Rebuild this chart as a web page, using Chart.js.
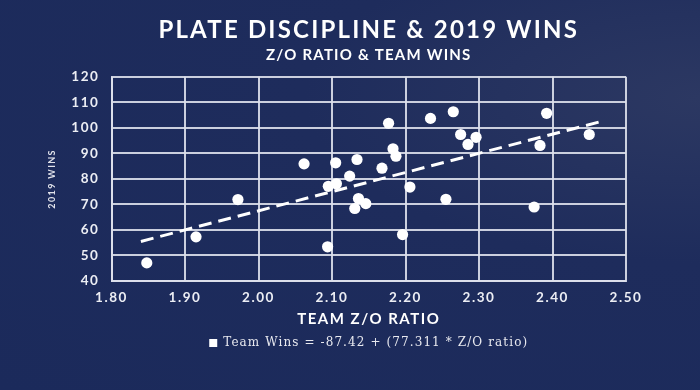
<!DOCTYPE html>
<html>
<head>
<meta charset="utf-8">
<script src="https://cdn.jsdelivr.net/npm/chart.js@4"></script>
<style>
  html, body { margin: 0; padding: 0; }
  body {
    width: 700px; height: 390px; overflow: hidden;
    background: radial-gradient(ellipse at 100% 25%, #2c3862 0%, #1e2c5c 40%, #1b2a5b 100%);
  }
</style>
</head>
<body>
<canvas id="winsChart" width="700" height="390"></canvas>
<script>
// team Z/O ratio vs 2019 wins
const zoRatio = [1.848, 1.915, 1.972, 2.062, 2.094, 2.095, 2.105, 2.106, 2.124, 2.131,
                 2.134, 2.136, 2.146, 2.168, 2.177, 2.183, 2.187, 2.196, 2.206, 2.234,
                 2.255, 2.265, 2.275, 2.285, 2.296, 2.375, 2.383, 2.392, 2.450];
const teamWins = [47.1, 57.3, 71.9, 85.9, 53.4, 77.1, 86.3, 78.1, 81.1, 68.4,
                  87.6, 72.3, 70.3, 84.2, 101.8, 91.8, 88.9, 58.2, 76.8, 103.7,
                  72.0, 106.3, 97.4, 93.5, 96.3, 69.0, 93.1, 105.7, 97.4];

// regression line end points
const trendX = [1.84, 2.465];
const trendY = [55.5, 102.4];
const trendLabel = 'Team Wins = -87.42 + (77.311 * Z/O ratio)';

const xTicks = [1.8, 1.9, 2.0, 2.1, 2.2, 2.3, 2.4, 2.5];
const yTicks = [40, 50, 60, 70, 80, 90, 100, 110, 120];

const white = '#ffffff';
const gridColor = 'rgba(222,225,236,0.9)';

// canvas letter spacing per box (chart.js has no option for it)
function withSpacing(chart, fn, sp) {
  return (...args) => {
    const c = chart.ctx;
    c.save(); c.letterSpacing = sp;
    const r = fn(...args);
    c.restore();
    return r;
  };
}
const spacingPlugin = {
  id: 'spacing',
  beforeLayout(chart) {
    chart.boxes.forEach(box => {
      if (box._spaced) return;
      let sp = '0px', titleSp = null;
      if (box === chart.titleBlock) sp = '2.2px';
      else if (box === chart.legend) sp = '1.1px';
      else if (box.id === 'x') { sp = '1.6px'; titleSp = '1.5px'; }
      else if (box.id === 'y') { sp = '1.6px'; titleSp = '1.4px'; }
      else sp = '1.2px'; // subtitle
      box.draw = withSpacing(chart, box.draw.bind(box), sp);
      if (box === chart.legend) box.fit = withSpacing(chart, box.fit.bind(box), sp);
      if (titleSp) box.drawTitle = withSpacing(chart, box.drawTitle.bind(box), titleSp);
      box._spaced = true;
    });
  }
};

const ctx = document.getElementById('winsChart').getContext('2d');
new Chart(ctx, {
  type: 'scatter',
  data: {
    datasets: [{
      label: 'teams',
      data: zoRatio.map((x, i) => ({ x: x, y: teamWins[i] })),
      backgroundColor: white,
      borderWidth: 0,
      pointRadius: 5.6,
      order: 1
    }, {
      type: 'line',
      label: trendLabel,
      data: trendX.map((x, i) => ({ x: x, y: trendY[i] })),
      borderColor: white,
      backgroundColor: white,
      borderWidth: 3,
      borderDash: [13, 7],
      pointRadius: 0,
      fill: false,
      order: 0
    }]
  },
  options: {
    responsive: false,
    animation: false,
    devicePixelRatio: 1,
    layout: { padding: { left: 40, right: 74, top: 0, bottom: 31 } },
    plugins: {
      title: {
        display: true,
        text: 'PLATE DISCIPLINE & 2019 WINS',
        color: white,
        fullSize: false,
        font: { family: 'Lato', size: 24, weight: 'bold' },
        padding: { top: 16, bottom: 0 }
      },
      subtitle: {
        display: true,
        text: 'Z/O RATIO & TEAM WINS',
        color: white,
        fullSize: false,
        font: { family: 'Lato', size: 15, weight: 'bold' },
        padding: { top: 1, bottom: 13 }
      },
      legend: {
        position: 'bottom',
        fullSize: false,
        labels: {
          color: '#e8e9ef',
          font: { family: 'DejaVu Serif', size: 12 },
          boxWidth: 8,
          boxHeight: 8,
          padding: 6,
          generateLabels: chart => [{
            text: trendLabel, fillStyle: white, strokeStyle: white,
            lineWidth: 0, datasetIndex: 1, fontColor: '#e8e9ef'
          }]
        }
      },
      tooltip: { enabled: false }
    },
    scales: {
      x: {
        type: 'linear',
        min: 1.8, max: 2.5,
        afterBuildTicks: s => { s.ticks = xTicks.map(v => ({ value: v })); },
        afterFit: s => { s.height = 50; },
        grid: { color: gridColor, lineWidth: 2, drawTicks: false },
        border: { color: gridColor, width: 2 },
        ticks: {
          color: '#eceef4',
          padding: 9,
          maxRotation: 0,
          font: { family: 'Lato', size: 13.5, weight: 'bold' },
          callback: v => v.toFixed(2)
        },
        title: {
          display: true,
          text: 'TEAM Z/O RATIO',
          color: white,
          font: { family: 'Lato', size: 15, weight: 'bold' },
          padding: { top: 0, bottom: 3 }
        }
      },
      y: {
        min: 40, max: 120,
        afterBuildTicks: s => { s.ticks = yTicks.map(v => ({ value: v })); },
        afterFit: s => { s.width = 71.5; },
        grid: { color: gridColor, lineWidth: 2, drawTicks: false },
        border: { color: gridColor, width: 2 },
        ticks: {
          color: '#eceef4',
          padding: 12,
          font: { family: 'Lato', size: 13.5, weight: 'bold' }
        },
        title: {
          display: true,
          text: '2019 WINS',
          color: '#e0e2ea',
          font: { family: 'Lato', size: 9, weight: 'bold' },
          padding: { top: 7, bottom: 0 }
        }
      }
    }
  },
  plugins: [spacingPlugin]
});
</script>
</body>
</html>
